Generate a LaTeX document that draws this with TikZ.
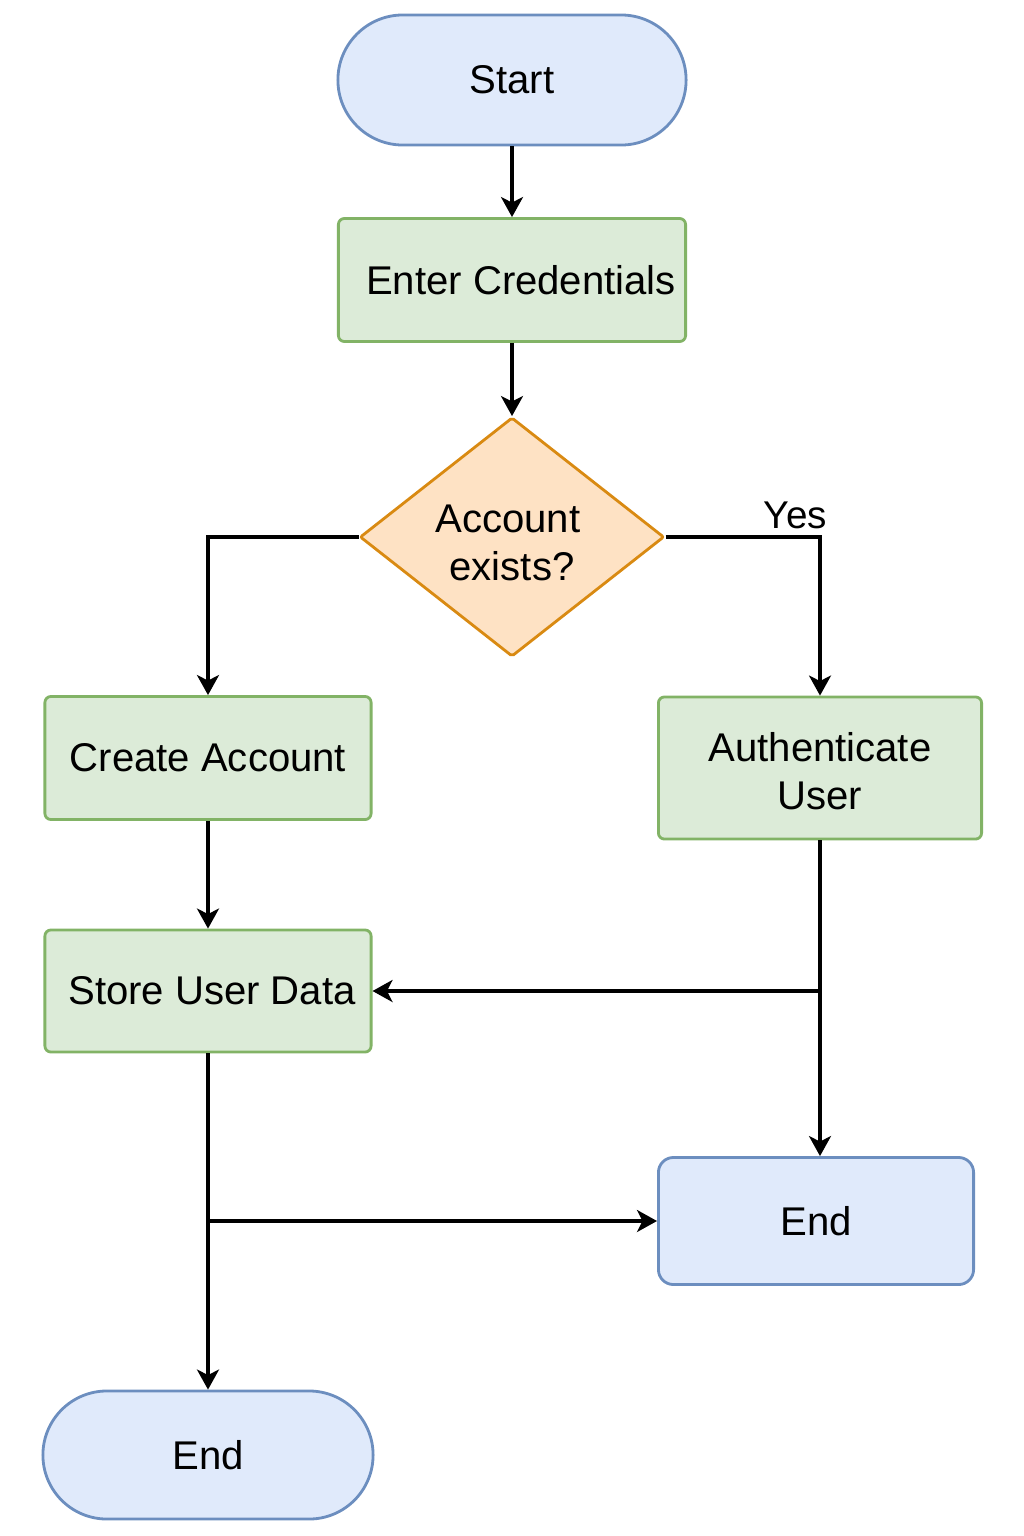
\documentclass[tikz,border=0pt]{standalone}
\usepackage{fontspec}
\setmainfont{Liberation Sans}
\usetikzlibrary{arrows.meta, shapes.geometric}
\definecolor{bluefill}{HTML}{E0EAFB}
\definecolor{blueline}{HTML}{6C8EBF}
\definecolor{greenfill}{HTML}{DCEBD8}
\definecolor{greenline}{HTML}{82B366}
\definecolor{orangefill}{HTML}{FEE2C4}
\definecolor{orangeline}{HTML}{D98A12}
\begin{document}
\begin{tikzpicture}[x=0.01cm, y=-0.01cm, >={Stealth[length=0.2cm, width=0.22cm, inset=0.055cm]}, line width=0.9pt]
    \tikzset{
        box/.style={draw=greenline, fill=greenfill, line width=0.8pt, rounded corners=0.06cm, inner sep=0pt, align=center, font=\fontsize{11.4pt}{13.8pt}\selectfont},
        term/.style={draw=blueline, fill=bluefill, line width=0.8pt, inner sep=0pt, align=center, font=\fontsize{11.4pt}{13.8pt}\selectfont},
        decision/.style={diamond, aspect=1.27, draw=orangeline, fill=orangefill, line width=0.8pt, rounded corners=0.02cm, inner sep=0pt, align=center, minimum width=3.04cm, minimum height=2.39cm, font=\fontsize{11.4pt}{13.8pt}\selectfont},
        flow/.style={->, black}
    };
    \useasboundingbox (0, 0) rectangle (1024, 1536);
    \node[term, rounded corners=0.65cm, minimum width=3.48cm, minimum height=1.3cm] (start) at (512, 80) {Start};
    \node[box, minimum width=3.47cm, minimum height=1.23cm] (cred) at (512, 280) {\hspace{0.18cm}Enter Credentials};
    \node[decision] (dia) at (512, 537) {\rule{0pt}{0.39cm}Account\rule{0.08cm}{0pt}\\exists?};
    \node[box, minimum width=3.26cm, minimum height=1.23cm] (create) at (208, 758) {Create Account};
    \node[box, minimum width=3.23cm, minimum height=1.42cm] (auth) at (820, 768) {\rule{0pt}{0.35cm}Authenticate\\User};
    \node[box, minimum width=3.26cm, minimum height=1.22cm] (store) at (208, 991) {\hspace{0.08cm}Store User Data};
    \node[term, rounded corners=0.15cm, minimum width=3.15cm, minimum height=1.27cm] (endr) at (816, 1221) {End};
    \node[term, rounded corners=0.64cm, minimum width=3.3cm, minimum height=1.28cm] (endb) at (208, 1455) {End};
    % junctions
    \coordinate (j1) at (auth.south |- store.east);
    \coordinate (j2) at (store.south |- endr.west);
    \draw[flow] (start) -- (cred);
    \draw[flow] (cred) -- (dia.north);
    \draw[flow] (dia.west) -| (create.north);
    \draw[flow] (dia.east) -| node[pos=0.42, above, inner sep=2pt, font=\fontsize{11pt}{13pt}\selectfont] {Yes} (auth.north);
    \draw[flow] (create) -- (store);
    \draw[flow] (auth.south) -- (auth.south |- endr.north);
    \draw[flow] (j1) -- (store.east);
    \draw[flow] (store.south) -- (store.south |- endb.north);
    \draw[flow] (j2) -- (endr.west);
\end{tikzpicture}
\end{document}
